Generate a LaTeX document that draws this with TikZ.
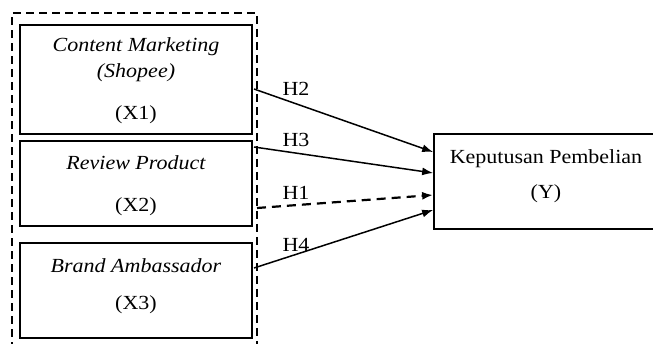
\documentclass[tikz,border=0pt]{standalone}
\usepackage{fontspec}
\setmainfont{Liberation Serif}[FakeStretch=1.1]
\usetikzlibrary{arrows.meta}
\begin{document}
\begin{tikzpicture}[x=1pt,y=-1pt,
  varbox/.style={draw,line width=1.7pt,inner sep=0pt,minimum width=232pt},
  txt/.style={font=\fontsize{20}{22}\selectfont,inner sep=0pt},
  link/.style={line width=1.5pt,-{Latex[length=11pt,width=8pt]}},
  group/.style={line width=2.2pt,dash pattern=on 8pt off 5pt}]
\useasboundingbox (0,0) rectangle (653,344);
\clip (0,0) rectangle (653,344);

% independent variables
\node[varbox,minimum height=109pt] (x1) at (136,79.5) {};
\node[varbox,minimum height=85pt] (x2) at (136,183.5) {};
\node[varbox,minimum height=95pt] (x3) at (136,290.5) {};
\node[txt] (t1a) at (136,47) {\itshape Content Marketing};
\node[txt] (t1b) at (136,73) {\itshape (Shopee)};
\node[txt] (t1c) at (136,115) {(X1)};
\node[txt] (t2a) at (136,163) {\itshape Review Product};
\node[txt] (t2b) at (136,207) {(X2)};
\node[txt] (t3a) at (136,266) {\itshape Brand Ambassador};
\node[txt] (t3b) at (136,305) {(X3)};

% dependent variable
\node[draw,line width=1.7pt,inner sep=0pt,minimum width=250pt,minimum height=95pt] (y) at (559,181.5) {};
\node[txt] (ya) at (546,159) {Keputusan Pembelian};
\node[txt] (yb) at (546,194) {(Y)};

% dashed grouping of X1--X3 (open at the bottom)
\draw[group] (12,350) -- (12,13) -- (257,13) -- (257,350);

% connector end points
\coordinate (s2) at (254,89);
\coordinate (s3) at (254,147);
\coordinate (s1) at (257,208);
\coordinate (s4) at (254,268);
\coordinate (e2) at (y.west |- 0,152);
\coordinate (e3) at (y.west |- 0,173);
\coordinate (e1) at (y.west |- 0,195);
\coordinate (e4) at (y.west |- 0,210);

\draw[link] (s2) -- (e2);
\draw[link] (s3) -- (e3);
\draw[link,line width=2.2pt,dash pattern=on 9pt off 6pt] (s1) -- (e1);
\draw[link] (s4) -- (e4);

\node[txt] (h2) at (296,89) {H2};
\node[txt] (h3) at (296,140) {H3};
\node[txt] (h1) at (296,193) {H1};
\node[txt] (h4) at (296,245) {H4};
\end{tikzpicture}
\end{document}
